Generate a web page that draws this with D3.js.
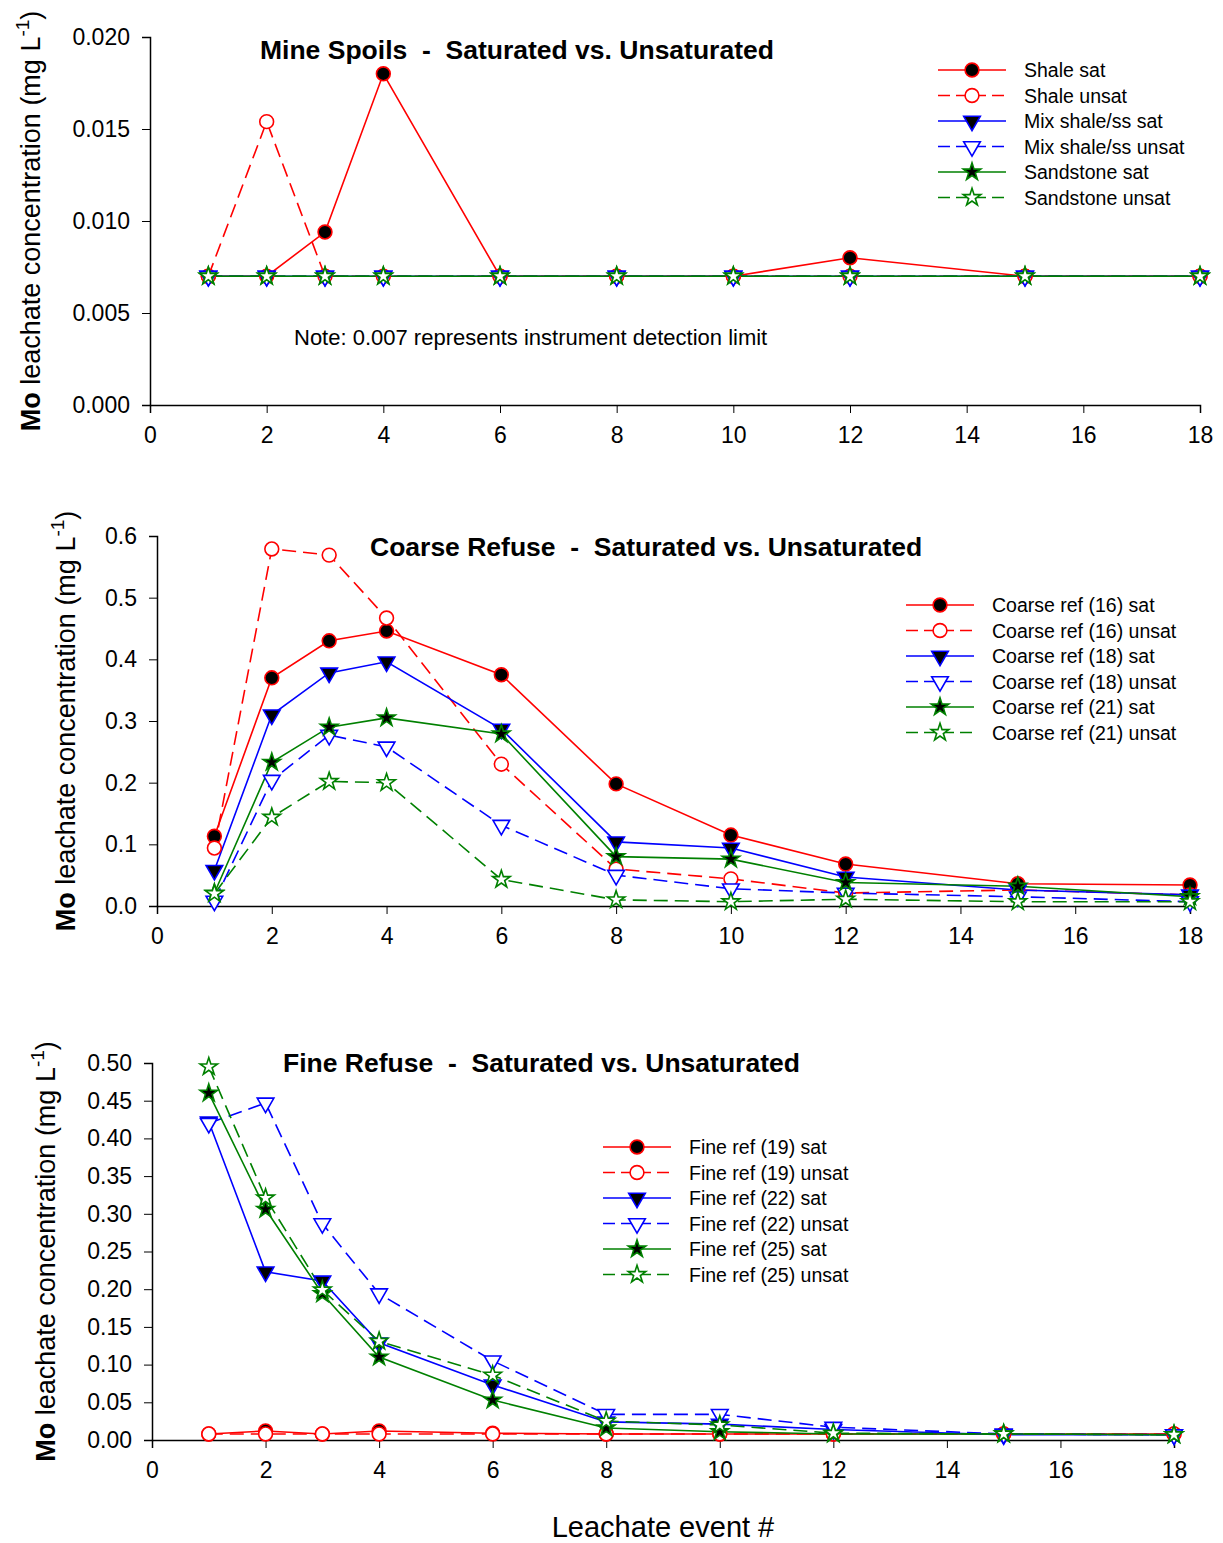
<!DOCTYPE html>
<html><head><meta charset="utf-8">
<script src="https://cdn.jsdelivr.net/npm/d3@7"></script>
<style>body{margin:0;background:#fff}text{font-family:Arial,"Liberation Sans",sans-serif}</style>
</head><body>
<svg id="c" width="1223" height="1543"></svg>
<script>
const events = [1, 2, 3, 4, 6, 8, 10, 12, 15, 18];
const xTicks = [0, 2, 4, 6, 8, 10, 12, 14, 16, 18];

// Mine spoils
const shaleSat = [0.007, 0.007, 0.0094, 0.018, 0.007, 0.007, 0.007, 0.008, 0.007, 0.007];
const shaleUnsat = [0.007, 0.0154, 0.007, 0.007, 0.007, 0.007, 0.007, 0.007, 0.007, 0.007];
const mixSat = [0.007, 0.007, 0.007, 0.007, 0.007, 0.007, 0.007, 0.007, 0.007, 0.007];
const mixUnsat = [0.007, 0.007, 0.007, 0.007, 0.007, 0.007, 0.007, 0.007, 0.007, 0.007];
const sandSat = [0.007, 0.007, 0.007, 0.007, 0.007, 0.007, 0.007, 0.007, 0.007, 0.007];
const sandUnsat = [0.007, 0.007, 0.007, 0.007, 0.007, 0.007, 0.007, 0.007, 0.007, 0.007];

// Coarse refuse
const coarse16Sat = [0.113, 0.37, 0.43, 0.446, 0.375, 0.198, 0.115, 0.068, 0.036, 0.034];
const coarse16Unsat = [0.094, 0.579, 0.569, 0.467, 0.23, 0.06, 0.044, 0.021, 0.026, 0.018];
const coarse18Sat = [0.058, 0.31, 0.378, 0.396, 0.287, 0.104, 0.094, 0.047, 0.026, 0.018];
const coarse18Unsat = [0.008, 0.204, 0.277, 0.258, 0.131, 0.05, 0.028, 0.021, 0.015, 0.007];
const coarse21Sat = [0.021, 0.233, 0.29, 0.305, 0.279, 0.08, 0.076, 0.038, 0.032, 0.015];
const coarse21Unsat = [0.02, 0.144, 0.202, 0.2, 0.043, 0.01, 0.007, 0.011, 0.007, 0.007];

// Fine refuse
const fine19Sat = [0.008, 0.012, 0.008, 0.012, 0.009, 0.008, 0.008, 0.008, 0.008, 0.008];
const fine19Unsat = [0.008, 0.008, 0.008, 0.008, 0.008, 0.008, 0.008, 0.008, 0.008, 0.008];
const fine22Sat = [0.422, 0.223, 0.211, 0.129, 0.073, 0.024, 0.021, 0.014, 0.007, 0.007];
const fine22Unsat = [0.42, 0.447, 0.287, 0.194, 0.105, 0.034, 0.034, 0.017, 0.008, 0.007];
const fine25Sat = [0.46, 0.306, 0.194, 0.11, 0.053, 0.016, 0.011, 0.008, 0.008, 0.007];
const fine25Unsat = [0.495, 0.321, 0.199, 0.131, 0.086, 0.025, 0.02, 0.009, 0.008, 0.007];

const styles = [
  { color: 'red', shape: 'circle', fill: 'black', dash: null },
  { color: 'red', shape: 'circle', fill: 'white', dash: '14,7' },
  { color: 'blue', shape: 'tri', fill: 'black', dash: null },
  { color: 'blue', shape: 'tri', fill: 'white', dash: '14,7' },
  { color: 'green', shape: 'star', fill: 'black', dash: null },
  { color: 'green', shape: 'star', fill: 'white', dash: '14,7' },
];

const panels = [
  {
    title: 'Mine Spoils  -  Saturated vs. Unsaturated', tx: 260, ty: 59,
    x0: 150, x1: 1200, yTop: 37, yBot: 405, ymax: 0.02, yTicks: d3.range(0, 0.0201, 0.005), fmt: d3.format('.3f'),
    ylabX: 40, series: [shaleSat, shaleUnsat, mixSat, mixUnsat, sandSat, sandUnsat],
    names: ['Shale sat', 'Shale unsat', 'Mix shale/ss sat', 'Mix shale/ss unsat', 'Sandstone sat', 'Sandstone unsat'],
    lx: 938, ly: 70, note: 'Note: 0.007 represents instrument detection limit'
  },
  {
    title: 'Coarse Refuse  -  Saturated vs. Unsaturated', tx: 370, ty: 556,
    x0: 157, x1: 1190, yTop: 536, yBot: 906, ymax: 0.6, yTicks: d3.range(0, 0.61, 0.1), fmt: d3.format('.1f'),
    ylabX: 75, series: [coarse16Sat, coarse16Unsat, coarse18Sat, coarse18Unsat, coarse21Sat, coarse21Unsat],
    names: ['Coarse ref (16) sat', 'Coarse ref (16) unsat', 'Coarse ref (18) sat', 'Coarse ref (18) unsat', 'Coarse ref (21) sat', 'Coarse ref (21) unsat'],
    lx: 906, ly: 605
  },
  {
    title: 'Fine Refuse  -  Saturated vs. Unsaturated', tx: 283, ty: 1072,
    x0: 152, x1: 1174, yTop: 1063, yBot: 1440, ymax: 0.5, yTicks: d3.range(0, 0.501, 0.05), fmt: d3.format('.2f'),
    ylabX: 55, series: [fine19Sat, fine19Unsat, fine22Sat, fine22Unsat, fine25Sat, fine25Unsat],
    names: ['Fine ref (19) sat', 'Fine ref (19) unsat', 'Fine ref (22) sat', 'Fine ref (22) unsat', 'Fine ref (25) sat', 'Fine ref (25) unsat'],
    lx: 603, ly: 1147
  },
];

const svg = d3.select('#c');
const star = d3.symbol().type(d3.symbolStar).size(95);
const circ = d3.symbol().type(d3.symbolCircle).size(150);
const tri = d3.symbol().type(d3.symbolTriangle).size(120);

function marker(g, st, x, y) {
  const p = g.append('path')
    .attr('d', st.shape === 'star' ? star() : st.shape === 'circle' ? circ() : tri())
    .attr('fill', st.fill).attr('stroke', st.color).attr('stroke-width', 1.6);
  if (st.shape === 'tri') p.attr('transform', `translate(${x},${y}) rotate(180)`);
  else p.attr('transform', `translate(${x},${y})`);
}

panels.forEach(p => {
  const x = d3.scaleLinear().domain([0, 18]).range([p.x0, p.x1]);
  const y = d3.scaleLinear().domain([0, p.ymax]).range([p.yBot, p.yTop]);
  const g = svg.append('g');

  g.append('g').attr('transform', `translate(0,${p.yBot})`)
    .call(d3.axisBottom(x).tickValues(xTicks).tickSize(8).tickPadding(14).tickFormat(d3.format('d')))
    .call(a => a.select('.domain').attr('stroke-width', 1.5))
    .call(a => a.selectAll('text').attr('font-size', 23).attr('fill', '#000'));
  g.append('g').attr('transform', `translate(${p.x0},0)`)
    .call(d3.axisLeft(y).tickValues(p.yTicks).tickSize(8).tickPadding(12).tickFormat(p.fmt))
    .call(a => a.select('.domain').attr('stroke-width', 1.5))
    .call(a => a.selectAll('text').attr('font-size', 23).attr('fill', '#000'));

  const yl = g.append('text').attr('font-size', 27).attr('text-anchor', 'middle')
    .attr('transform', `translate(${p.ylabX},${(p.yTop + p.yBot) / 2}) rotate(-90)`);
  yl.append('tspan').attr('font-weight', 'bold').text('Mo');
  yl.append('tspan').text(' leachate concentration (mg L');
  yl.append('tspan').attr('font-size', 19).attr('dy', -11).text('-1');
  yl.append('tspan').attr('dy', 11).text(')');

  g.append('text').attr('x', p.tx).attr('y', p.ty).attr('font-size', 26.5).attr('font-weight', 'bold')
    .style('white-space', 'pre').text(p.title);
  if (p.note) g.append('text').attr('x', 294).attr('y', 345).attr('font-size', 22).text(p.note);

  const line = d3.line().x((d, i) => x(events[i])).y(d => y(d));
  p.series.forEach((s, k) => {
    const st = styles[k];
    g.append('path').attr('d', line(s)).attr('fill', 'none').attr('stroke', st.color)
      .attr('stroke-width', 1.6).attr('stroke-dasharray', st.dash);
  });
  p.series.forEach((s, k) => {
    s.forEach((v, i) => marker(g, styles[k], x(events[i]), y(v)));
  });

  p.names.forEach((n, k) => {
    const st = styles[k], yy = p.ly + k * 25.5;
    g.append('line').attr('x1', p.lx).attr('x2', p.lx + 68).attr('y1', yy).attr('y2', yy)
      .attr('stroke', st.color).attr('stroke-width', 1.6).attr('stroke-dasharray', st.dash ? '12,6' : null);
    marker(g, st, p.lx + 34, yy);
    g.append('text').attr('x', p.lx + 86).attr('y', yy + 7).attr('font-size', 19.5).text(n);
  });
});

svg.append('text').attr('x', 663).attr('y', 1537).attr('text-anchor', 'middle').attr('font-size', 29).text('Leachate event #');
</script>
</body></html>
